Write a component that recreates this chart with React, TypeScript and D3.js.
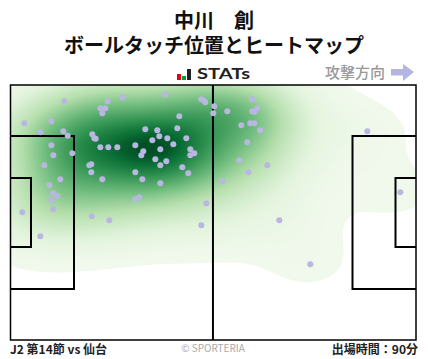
import React, { useMemo } from "react";
import * as d3 from "d3";

const titleName = "中川　創";
const titleSub = "ボールタッチ位置とヒートマップ";
const directionLabel = "攻撃方向";
const matchLabel = "J2 第14節 vs 仙台";
const minutesLabel = "出場時間：90分";
const copyrightLabel = "© SPORTERIA";
const logoLabel = "STATs";
const logoBars = [{ h: 6, c: "#e60012" }, { h: 4, c: "#0a9a3c" }, { h: 11, c: "#222222" }];

// Touch positions on the pitch, in pitch units: x 0–405.5 (own goal → opponent goal), y 0–255
const touchX = [53.8,13.8,40.8,29.8,52.8,57.2,40.8,42.8,61.8,33.8,49.8,38.8,42.8,46.8,40.8,42.8,11.8,29.8,81.2,98.8,97.2,111.8,89.8,94.8,91.8,154.8,190.8,192.8,194.8,203.8,202.8,168.8,166.8,134.8,146.8,148.8,156.8,141.8,175.8,162.8,81.8,83.8,85.2,89.8,97.8,106.8,124.8,149.8,179.8,183.8,179.8,132.8,130.8,144.8,155.8,149.8,171.8,177.8,80.8,78.8,80.8,91.8,124.8,131.8,149.8,128.8,124.8,195.8,190.8,241.8,246.8,241.8,243.8,216.8,230.8,239.8,243.8,249.8,236.8,228.8,237.8,256.8,211.8,356.8,389.8,268.8,299.8];
const touchY = [16.3,38.3,36.3,47.3,46.3,50.7,60.3,70.3,68.3,80.3,94.3,100.3,108.3,111.3,115.3,124.3,127.3,151.3,131.3,135.3,16.3,12.3,23.3,23.3,28.3,9.3,14.3,15,17.3,21.3,28.3,31.3,43.3,44.3,45.3,51.3,53.3,55.3,53.3,59.3,49.3,53.3,53.7,62.3,62.3,62.3,60.3,64.3,64.3,68.3,70.3,66.3,70.3,74.3,76.3,80.3,82.3,88.3,79.3,80.3,87.3,94.3,87.3,94.3,98.3,112.3,114.3,118.3,140.3,14.3,23.3,26.3,26.7,26.3,40.3,38.3,38.3,45.3,57.3,75.3,87.3,80.3,96.3,46.3,107.3,135.3,179.3];

// Pitch markings, in the same pitch units
const penaltyDepth = 63.5;
const penaltyTop = 51;
const penaltyBottom = 204;
const goalDepth = 20.5;
const goalTop = 93;
const goalBottom = 162;
const pitchW = 405.5;
const pitchH = 255;

const W = 428;
const H = 359;
const left = 10.5;
const top = 85;

export default function App() {
  const x = d3.scaleLinear().domain([0, pitchW]).range([left, left + pitchW]);
  const y = d3.scaleLinear().domain([0, pitchH]).range([top, top + pitchH]);

  const paths = useMemo(() => {
    const cell = 3;
    const nx = Math.ceil(pitchW / cell) + 1;
    const ny = Math.ceil(pitchH / cell) + 1;
    const bands = [
      { bx: 36, by: 24, w: 1 },
      { bx: 66, by: 38, w: 0.25 },
    ];
    const grid = new Float64Array(nx * ny);
    for (let j = 0; j < ny; j++) {
      for (let i = 0; i < nx; i++) {
        let s = 0;
        for (let k = 0; k < touchX.length; k++) {
          for (const b of bands) {
            const dx = (i * cell - touchX[k]) / b.bx;
            const dy = (j * cell - touchY[k]) / b.by;
            s += b.w * Math.exp(-0.5 * (dx * dx + dy * dy));
          }
        }
        grid[j * nx + i] = s;
      }
    }
    const max = d3.max(grid as unknown as number[]) as number;
    const levels = 60;
    const floor = 0.036;
    const thresholds = d3.range(levels).map((i) => max * (floor + ((1 - floor) * i) / levels));
    const contours = d3.contours().size([nx, ny]).smooth(true).thresholds(thresholds)(
      Array.from(grid)
    );
    const path = d3.geoPath(
      d3.geoTransform({
        point(px, py) {
          this.stream.point(x((px - 0.5) * cell), y((py - 0.5) * cell));
        },
      })
    );
    const color = d3
      .scaleLinear<string>()
      .domain([0, 0.12, 0.35, 0.55, 0.78, 0.92, 1])
      .range(["#f1f9ec", "#e3f4dd", "#b4deac", "#72bd7f", "#2f9150", "#0b7035", "#004f25"])
      .interpolate(d3.interpolateRgb);
    return contours.map((c, i) => ({ d: path(c) || "", fill: color(i / (levels - 1)) }));
  }, []);

  return (
    <svg
      width={W}
      height={H}
      viewBox={`0 0 ${W} ${H}`}
      style={{ position: "absolute", left: 0, top: 0, background: "#fff" }}
      fontFamily="'Noto Sans CJK JP'"
    >
      <text x={214} y={28} textAnchor="middle" fontSize={20} fontWeight={700} fill="#111">{titleName}</text>
      <text x={214} y={53} textAnchor="middle" fontSize={20} fontWeight={700} fill="#111">{titleSub}</text>

      {logoBars.map((b, i) => (
        <rect key={i} x={177 + i * 5} y={80 - b.h} width={4} height={b.h} fill={b.c} />
      ))}
      <text x={197} y={79} fontFamily="'Lato'" fontSize={15.5} fontWeight={700} fill="#222" textLength={53} lengthAdjust="spacingAndGlyphs">{logoLabel}</text>

      <text x={385} y={78} textAnchor="end" fontSize={15} fontWeight={500} fill="#999">{directionLabel}</text>
      <path d="M391,69 H403 V64 L414,72 L403,81 V75.5 H391 Z" fill="#b5b5e2" />

      <defs>
        <clipPath id="pitch-clip">
          <rect x={x(0)} y={y(0)} width={pitchW} height={pitchH} />
        </clipPath>
      </defs>
      <g clipPath="url(#pitch-clip)">
        {paths.map((p, i) => (
          <path key={i} d={p.d} fill={p.fill} />
        ))}
      </g>

      <g fill="none" stroke="#000" strokeWidth={2}>
        <rect x={x(0)} y={y(0)} width={pitchW} height={pitchH} strokeWidth={1.5} />
        <line x1={x(pitchW / 2 - 0.3)} x2={x(pitchW / 2 - 0.3)} y1={y(0)} y2={y(pitchH)} />
        <path d={`M${x(0)},${y(penaltyTop)} H${x(penaltyDepth)} V${y(penaltyBottom)} H${x(0)}`} />
        <path d={`M${x(0)},${y(goalTop)} H${x(goalDepth)} V${y(goalBottom)} H${x(0)}`} />
        <path d={`M${x(pitchW)},${y(penaltyTop)} H${x(pitchW - penaltyDepth)} V${y(penaltyBottom)} H${x(pitchW)}`} />
        <path d={`M${x(pitchW)},${y(goalTop)} H${x(pitchW - goalDepth)} V${y(goalBottom)} H${x(pitchW)}`} />
      </g>

      {touchX.map((v, i) => (
        <circle key={i} cx={x(v)} cy={y(touchY[i])} r={3} fill="#b9b6e2" />
      ))}

      <text x={10} y={354} fontSize={12} fontWeight={700} fill="#222">{matchLabel}</text>
      <text x={213} y={352} textAnchor="middle" fontSize={10} fill="#aaa">{copyrightLabel}</text>
      <text x={418} y={354} textAnchor="end" fontSize={12} fontWeight={700} fill="#222">{minutesLabel}</text>
    </svg>
  );
}
